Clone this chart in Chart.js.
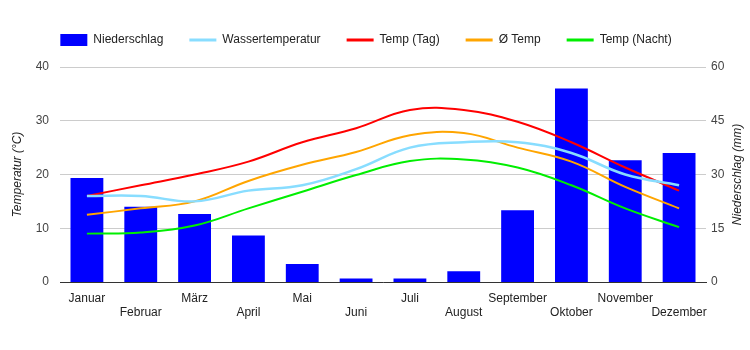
<!DOCTYPE html>
<html>
<head>
<meta charset="utf-8">
<script src="https://cdn.jsdelivr.net/npm/chart.js@4/dist/chart.umd.min.js"></script>
<style>
html,body{margin:0;padding:0;background:#fff;}
#wrap{width:750px;height:350px;position:relative;}
</style>
</head>
<body>
<div id="wrap"><canvas id="c" width="750" height="350"></canvas></div>
<script>
const months = ['Januar','Februar','März','April','Mai','Juni','Juli','August','September','Oktober','November','Dezember'];
const niederschlag = [29, 21, 19, 13, 5, 1, 1, 3, 20, 54, 34, 36];
const wassertemp = [16, 16, 15, 17, 18, 21, 25, 26, 26, 24, 20, 18];
const tempTag = [16, 18, 20, 22.4, 26, 28.6, 32, 32, 29.8, 26, 21.3, 17];
const tempAvg = [12.5, 13.7, 15, 18.8, 21.8, 24.2, 27.3, 27.7, 25, 22.4, 17.7, 13.7];
const tempNacht = [9, 9.2, 10.5, 13.7, 16.8, 19.9, 22.5, 22.8, 21.3, 18, 13.7, 10.2];
const leftTicks = [0, 10, 20, 30, 40];
const rightTicks = [0, 15, 30, 45, 60];

const FONT = "'Liberation Sans', Arial, sans-serif";
Chart.defaults.font.family = FONT;
Chart.defaults.font.size = 12;
Chart.defaults.color = '#222';

function lineDs(label, data, color, width) {
  return {
    type: 'line', label, data, yAxisID: 'y',
    borderColor: color, backgroundColor: color,
    borderWidth: width, pointRadius: 0, pointHoverRadius: 0,
    tension: 0.4, fill: false, order: 1, pointStyle: 'line'
  };
}

const layoutTweaks = {
  id: 'layoutTweaks',
  beforeLayout(chart) {
    const lg = chart.legend;
    if (lg && !lg._patched) {
      const origFit = Object.getPrototypeOf(lg).fit;
      lg.fit = function () { origFit.call(this); this.height += 11; };
      lg._patched = true;
    }
  },
  afterLayout(chart) {
    const lg = chart.legend;
    if (lg) { lg.left -= 14; lg.right -= 14; }
  },
  afterDraw(chart) {
    const ctx = chart.ctx;
    ctx.save();
    ctx.translate(738, (chart.chartArea.top + chart.chartArea.bottom) / 2);
    ctx.rotate(-Math.PI / 2);
    ctx.font = "italic 12px " + FONT;
    ctx.fillStyle = '#222';
    ctx.textAlign = 'center';
    ctx.textBaseline = 'middle';
    ctx.fillText('Niederschlag (mm)', 0, 0);
    ctx.restore();
  }
};

new Chart(document.getElementById('c'), {
  data: {
    labels: months,
    datasets: [
      { type: 'bar', label: 'Niederschlag', data: niederschlag, yAxisID: 'y1',
        backgroundColor: '#0000ff', borderWidth: 0, order: 10,
        barPercentage: 0.61, categoryPercentage: 1.0, pointStyle: 'rect' },
      lineDs('Wassertemperatur', wassertemp, '#88ddff', 2.5),
      lineDs('Temp (Tag)', tempTag, '#ff0000', 2),
      lineDs('Ø Temp', tempAvg, '#ffa500', 2),
      lineDs('Temp (Nacht)', tempNacht, '#00ee00', 2)
    ]
  },
  options: {
    responsive: false,
    animation: false,
    layout: { padding: { top: 8, left: 10, right: 0, bottom: 0 } },
    plugins: {
      tooltip: { enabled: false },
      legend: {
        position: 'top',
        labels: {
          usePointStyle: true, pointStyleWidth: 27, boxHeight: 13,
          padding: 26, color: '#222', font: { size: 12 },
          sort: (a, b) => a.datasetIndex - b.datasetIndex,
          generateLabels: chart => {
            const items = Chart.defaults.plugins.legend.labels.generateLabels(chart);
            items.forEach(it => { if (it.pointStyle === 'line') it.lineWidth = 3; });
            return items;
          }
        }
      }
    },
    scales: {
      x: {
        grid: { display: false, drawTicks: false },
        border: { display: true, color: '#333', width: 1 },
        ticks: {
          autoSkip: false, maxRotation: 0, minRotation: 0, padding: 9, color: '#222',
          callback: (v, i) => (i % 2 ? ['', months[i]] : months[i])
        },
        afterFit: s => { s.height = 68; }
      },
      y: {
        position: 'left', min: 0, max: 40,
        afterBuildTicks: s => { s.ticks = leftTicks.map(v => ({ value: v })); },
        grid: { color: '#cccccc', drawTicks: false },
        border: { display: false },
        ticks: { padding: 11, color: '#444' },
        title: { display: true, text: 'Temperatur (°C)', color: '#222',
                 font: { style: 'italic', size: 12 }, padding: 0 },
        afterFit: s => { s.width = 50; }
      },
      y1: {
        position: 'right', min: 0, max: 60,
        afterBuildTicks: s => { s.ticks = rightTicks.map(v => ({ value: v })); },
        grid: { display: false, drawTicks: false },
        border: { display: false },
        ticks: { padding: 5, color: '#444' },
        afterFit: s => { s.width = 44; }
      }
    }
  },
  plugins: [layoutTweaks]
});
</script>
</body>
</html>
